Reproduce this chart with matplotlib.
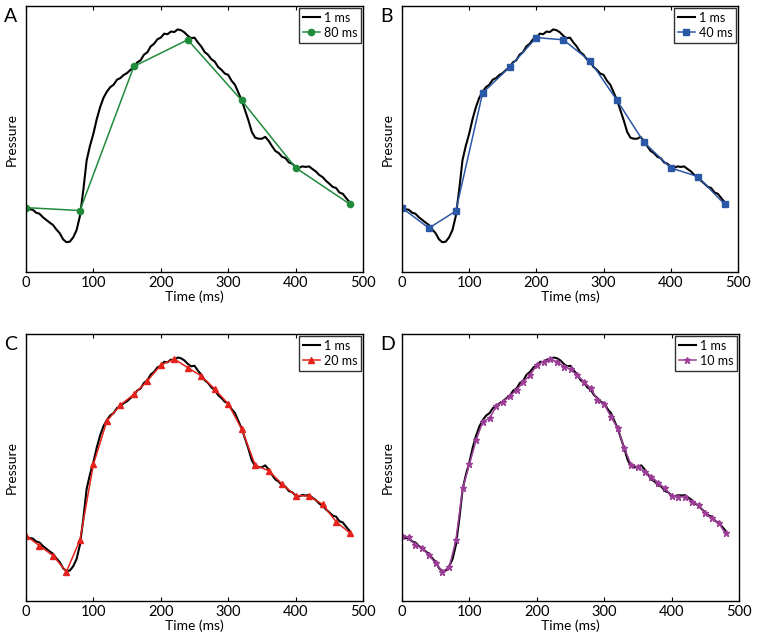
import numpy as np
import matplotlib
matplotlib.use("Agg")
import matplotlib.pyplot as plt

plt.rcParams['font.family'] = ['Lato', 'DejaVu Sans']

# 1 ms trace (read every 5 ms off the picture)
t_fine = np.arange(0, 485, 5)
p_fine = [24.2, 23.6, 23.4, 22.3, 21.9, 20.6, 19.6, 18.6, 17.7, 16.0,
          14.6, 12.3, 11.2, 11.4, 13.0, 15.7, 21.0, 30.7, 42.0, 47.5,
          52.0, 57.5, 62.0, 65.5, 67.8, 69.5, 70.4, 72.3, 72.9, 74.1,
          74.8, 76.0, 76.9, 78.8, 79.6, 81.7, 82.6, 84.8, 85.8, 87.5,
          88.1, 89.6, 89.4, 90.4, 90.2, 91.2, 90.9, 90.1, 88.8, 87.9,
          88.1, 86.3, 84.8, 82.7, 81.7, 80.0, 79.1, 77.1, 76.0, 74.6,
          74.1, 71.9, 70.4, 67.5, 64.6, 60.8, 57.0, 52.7, 50.5, 50.1,
          50.1, 50.8, 49.3, 47.3, 45.5, 44.7, 43.3, 42.8, 41.2, 40.7,
          39.5, 39.2, 39.7, 39.5, 39.7, 38.7, 37.8, 36.5, 35.7, 34.3,
          33.2, 32.0, 31.6, 29.9, 29.4, 27.8, 26.3]

# downsampled versions
p80 = [24.2, 23.1, 77.3, 87.3, 64.5, 39.2, 25.6]
p40 = [24.1, 16.5, 22.9, 67.3, 77.0, 88.1, 87.3, 79.3, 64.5, 48.8, 39.1, 35.9, 25.5]
p20 = [24.5, 20.7, 17.0, 11.0, 22.8, 51.2, 67.4, 73.4, 77.4, 82.4, 88.4, 90.6, 87.4,
       84.3, 79.4, 73.8, 64.4, 50.9, 48.8, 43.8, 39.5, 39.3, 36.2, 29.7, 25.6]
p10 = [24.3, 23.8, 21.0, 19.7, 17.2, 14.1, 11.0, 12.6, 22.8, 42.2,
       51.2, 60.3, 67.2, 68.4, 73.0, 74.7, 76.8, 79.0, 82.1, 84.6,
       88.4, 89.6, 90.5, 89.6, 87.8, 86.8, 84.6, 82.1, 79.7, 75.3,
       73.7, 69.0, 64.7, 57.2, 50.9, 50.3, 48.4, 46.6, 44.3, 42.2,
       39.3, 39.1, 39.1, 37.2, 36.0, 32.8, 31.0, 29.1, 25.3]

panels = ['A', 'B', 'C', 'D']
steps = [80, 40, 20, 10]
series = [p80, p40, p20, p10]
colors = ['#1f8b3b', '#2b57a7', '#e5231c', '#9c3d97']
markers = ['o', 's', '^', '*']
msizes = [4.5, 4, 5, 5]

fig = plt.figure(figsize=(7.65, 6.36), dpi=100)
W, H = 765, 636
boxes = [(26, 6, 363, 272), (402, 6, 738, 272), (26, 334, 363, 601), (402, 334, 739, 601)]

for i in range(4):
    x0, y0, x1, y1 = boxes[i]
    ax = fig.add_axes([x0 / W, 1 - y1 / H, (x1 - x0) / W, (y1 - y0) / H])
    ax.plot(t_fine, p_fine, color='black', lw=1.5, label='1 ms')
    ts = np.arange(0, 481, steps[i])
    ax.plot(ts, series[i], color=colors[i], lw=1.1, marker=markers[i],
            ms=msizes[i], label='%d ms' % steps[i])
    ax.set_xlim(0, 500)
    ax.set_ylim(0, 100)
    ax.set_xticks([0, 100, 200, 300, 400, 500])
    ax.set_yticks([])
    ax.tick_params(axis='x', direction='in', length=3, top=True, labelsize=10.5, pad=3)
    for s in ax.spines.values():
        s.set_linewidth(1.0)
    ax.set_xlabel('Time (ms)', fontsize=10, labelpad=0)
    ax.set_ylabel('Pressure', fontsize=10, labelpad=6)
    leg = ax.legend(loc='upper right', bbox_to_anchor=(1.0, 1.0), fontsize=9,
                    frameon=True, fancybox=False, borderaxespad=0.15,
                    handlelength=1.4, handletextpad=0.3, borderpad=0.3,
                    labelspacing=0.25)
    leg.get_frame().set_edgecolor('black')
    leg.get_frame().set_linewidth(1.0)
    fig.text((x0 - 22) / W, 1 - (y0 + 10) / H, panels[i], fontsize=14, va='center', ha='left')

plt.savefig("out.png", dpi=100)
